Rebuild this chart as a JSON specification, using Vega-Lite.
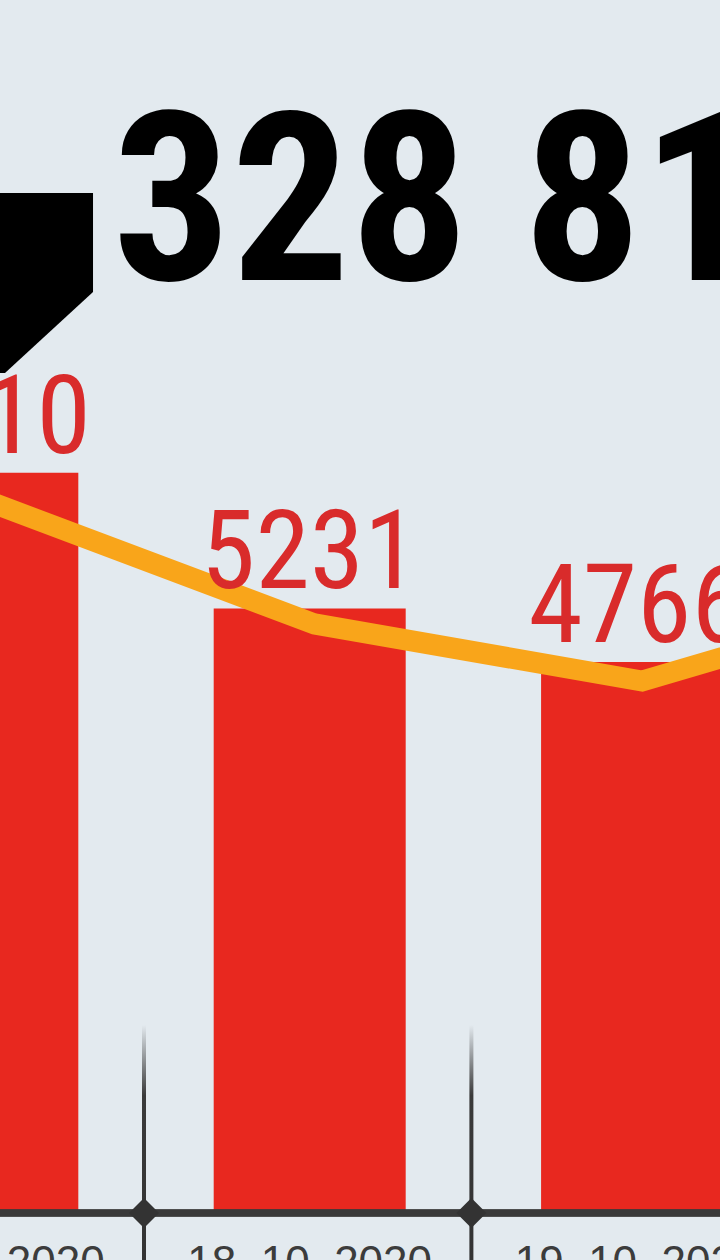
{
  "$schema": "https://vega.github.io/schema/vega-lite/v6.json",
  "width": 720,
  "height": 1260,
  "autosize": {"type": "none"},
  "padding": 0,
  "background": "#e3eaef",
  "config": {"view": {"stroke": null}},
  "datasets": {
    "days": [
      {"day": 17, "date": "17. 10. 2020", "cases": 6410},
      {"day": 18, "date": "18. 10. 2020", "cases": 5231},
      {"day": 19, "date": "19. 10. 2020", "cases": 4766}
    ],
    "trend": [
      {"day": 17, "avg": 6165},
      {"day": 18, "avg": 5096},
      {"day": 19, "avg": 4600},
      {"day": 20, "avg": 5435}
    ],
    "seps": [{"sep": 17.5}, {"sep": 18.5}],
    "headline": [{"label": "328 815"}]
  },
  "data": {"name": "days"},
  "layer": [
    {
      "data": {"name": "seps"},
      "mark": {"type": "bar", "size": 4, "clip": true, "xOffset": -2,
        "color": {"gradient": "linear", "x1": 0, "y1": 0, "x2": 0, "y2": 1,
          "stops": [{"offset": 0, "color": "rgba(51,51,51,0)"}, {"offset": 0.3, "color": "#3a3a3a"}, {"offset": 1, "color": "#333333"}]}},
      "encoding": {
        "x": {"field": "sep", "type": "quantitative", "scale": {"domain": [17.0693, 19.238], "zero": false, "nice": false}, "axis": null},
        "y": {"datum": 1609, "type": "quantitative", "scale": {"domain": [-435, 10522], "zero": false, "nice": false}, "axis": null},
        "y2": {"datum": -435}
      }
    },
    {
      "mark": {"type": "bar", "size": 192, "color": "#e8281f", "clip": true},
      "encoding": {
        "x": {"field": "day", "type": "quantitative"},
        "y": {"field": "cases", "type": "quantitative"}
      }
    },
    {
      "data": {"name": "trend"},
      "mark": {"type": "line", "color": "#f9a51a", "strokeWidth": 21, "strokeJoin": "miter", "xOffset": 5, "clip": true},
      "encoding": {
        "x": {"field": "day", "type": "quantitative"},
        "y": {"field": "avg", "type": "quantitative"}
      }
    },
    {
      "mark": {"type": "text", "font": "Roboto Condensed, DejaVu Sans Condensed, Liberation Sans", "fontSize": 110, "fontWeight": "normal", "color": "#d92b2b", "align": "center", "baseline": "alphabetic", "dy": -20, "clip": true},
      "encoding": {
        "x": {"field": "day", "type": "quantitative"},
        "y": {"field": "cases", "type": "quantitative"},
        "text": {"field": "cases", "type": "nominal"}
      }
    },
    {
      "mark": {"type": "rule", "color": "#3a3a3a", "strokeWidth": 7},
      "encoding": {"y": {"datum": -26, "type": "quantitative"}}
    },
    {
      "data": {"name": "seps"},
      "mark": {"type": "point", "shape": "diamond", "filled": true, "size": 900, "color": "#333333", "opacity": 1, "xOffset": -2},
      "encoding": {
        "x": {"field": "sep", "type": "quantitative"},
        "y": {"datum": -26, "type": "quantitative"}
      }
    },
    {
      "mark": {"type": "text", "font": "Liberation Sans", "fontSize": 44, "color": "#3c3c3c", "align": "center", "baseline": "top", "clip": true},
      "encoding": {
        "x": {"field": "day", "type": "quantitative"},
        "y": {"datum": -278, "type": "quantitative"},
        "text": {"field": "date", "type": "nominal"}
      }
    },
    {
      "data": {"name": "headline"},
      "mark": {"type": "text", "font": "Roboto Condensed, DejaVu Sans Condensed, Liberation Sans", "fontWeight": "bold", "fontSize": 235, "color": "#000000", "align": "left", "baseline": "alphabetic", "letterSpacing": -10},
      "encoding": {
        "x": {"datum": 17.3976, "type": "quantitative"},
        "y": {"datum": 8087, "type": "quantitative"},
        "text": {"field": "label", "type": "nominal"}
      }
    },
    {
      "data": {"name": "headline"},
      "mark": {"type": "point", "filled": true, "size": 32400, "color": "#000000", "opacity": 1,
        "shape": "M -1 -1 L 0.978 -1 L 0.978 0.1 L 0 1 L -1 1 Z"},
      "encoding": {
        "x": {"datum": 17.0693, "type": "quantitative"},
        "y": {"datum": 8061, "type": "quantitative"}
      }
    }
  ]
}
